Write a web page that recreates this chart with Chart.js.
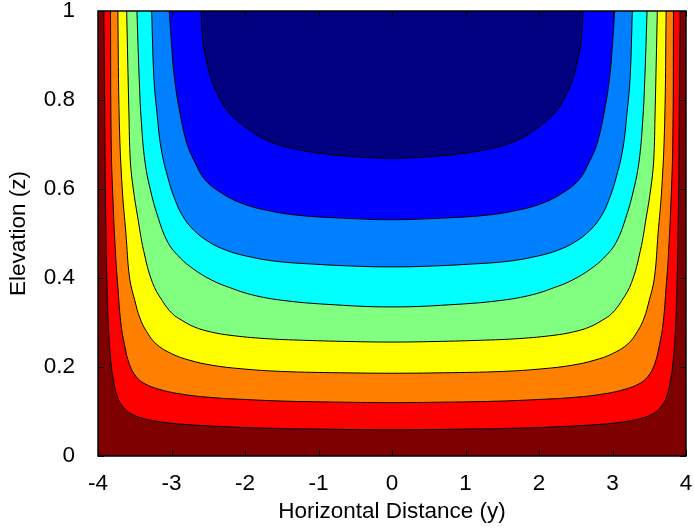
<!DOCTYPE html>
<html>
<head>
<meta charset="utf-8">
<script src="https://cdn.jsdelivr.net/npm/chart.js@4.4.0/dist/chart.umd.min.js"></script>
<style>
  html, body { margin: 0; padding: 0; background: #fff; }
  #wrap { position: relative; width: 694px; height: 529px; }
</style>
</head>
<body>
<div id="wrap"><canvas id="chart"></canvas></div>
<script>
// axis ticks
const xTicks = [-4, -3, -2, -1, 0, 1, 2, 3, 4];
const zTicks = [0, 0.2, 0.4, 0.6, 0.8, 1];

// band colours, lowest band first
const bandColors = ['#7f0000', '#ff0000', '#ff8000', '#ffff00', '#80ff80', '#00ffff', '#0080ff', '#0000ff', '#000080'];

// lowest band fills the whole box
const domain = [[-4, 0], [4, 0]];

// contour lines, [y, z], left top -> bottom -> right top
const contour1 = [[-3.92,1],[-3.91,0.8],[-3.90,0.6],[-3.88,0.4],[-3.86,0.3],[-3.83,0.22],[-3.79,0.17],[-3.74,0.135],[-3.68,0.115],[-3.58,0.098],[-3.42,0.086],[-3.2,0.078],[-2.9,0.072],[-2.4,0.067],[-1.8,0.063],[-1.0,0.0605],[0,0.059],
  [1.0,0.0605],[1.8,0.063],[2.4,0.067],[2.9,0.072],[3.2,0.078],[3.42,0.086],[3.58,0.098],[3.68,0.115],[3.74,0.135],[3.79,0.17],[3.83,0.22],[3.86,0.3],[3.88,0.4],[3.90,0.6],[3.91,0.8],[3.92,1]];
const contour2 = [[-3.83,1],[-3.82,0.7],[-3.79,0.55],[-3.76,0.45],[-3.73,0.38],[-3.69,0.3],[-3.64,0.25],[-3.57,0.205],[-3.48,0.178],[-3.36,0.162],[-3.17,0.150],[-2.9,0.140],[-2.5,0.132],[-2.0,0.127],[-1.4,0.123],[-0.7,0.121],[0,0.120],
  [0.7,0.121],[1.4,0.123],[2.0,0.127],[2.5,0.132],[2.9,0.140],[3.17,0.150],[3.36,0.162],[3.48,0.178],[3.57,0.205],[3.64,0.25],[3.69,0.3],[3.73,0.38],[3.76,0.45],[3.79,0.55],[3.82,0.7],[3.83,1]];
const contour3 = [[-3.73,1],[-3.71,0.75],[-3.67,0.6],[-3.62,0.5],[-3.57,0.4],[-3.50,0.35],[-3.43,0.31],[-3.34,0.28],[-3.21,0.252],[-3.0,0.23],[-2.75,0.215],[-2.45,0.204],[-2.05,0.196],[-1.5,0.19],[-0.7,0.187],[0,0.186],
  [0.7,0.187],[1.5,0.19],[2.05,0.196],[2.45,0.204],[2.75,0.215],[3.0,0.23],[3.21,0.252],[3.34,0.28],[3.43,0.31],[3.50,0.35],[3.57,0.4],[3.62,0.5],[3.67,0.6],[3.71,0.75],[3.73,1]];
const contour4 = [[-3.61,1],[-3.58,0.775],[-3.56,0.663],[-3.52,0.6],[-3.46,0.537],[-3.38,0.462],[-3.26,0.39],[-3.13,0.35],[-2.99,0.32],[-2.86,0.305],[-2.69,0.29],[-2.47,0.279],[-2.19,0.271],[-1.74,0.264],[-1.2,0.26],[-0.5,0.257],[0,0.256],
  [0.5,0.257],[1.2,0.26],[1.74,0.264],[2.19,0.271],[2.47,0.279],[2.69,0.29],[2.86,0.305],[2.99,0.32],[3.13,0.35],[3.26,0.39],[3.38,0.462],[3.46,0.537],[3.52,0.6],[3.56,0.663],[3.58,0.775],[3.61,1]];
const contour5 = [[-3.47,1],[-3.44,0.85],[-3.41,0.75],[-3.36,0.66],[-3.29,0.6],[-3.19,0.54],[-3.05,0.48],[-2.88,0.445],[-2.7,0.42],[-2.45,0.395],[-2.2,0.378],[-1.9,0.362],[-1.5,0.35],[-0.9,0.341],[0,0.335],
  [0.9,0.341],[1.5,0.35],[1.9,0.362],[2.2,0.378],[2.45,0.395],[2.7,0.42],[2.88,0.445],[3.05,0.48],[3.19,0.54],[3.29,0.6],[3.36,0.66],[3.41,0.75],[3.44,0.85],[3.47,1]];
const contour6 = [[-3.27,1],[-3.24,0.85],[-3.20,0.775],[-3.14,0.69],[-3.04,0.62],[-2.95,0.575],[-2.85,0.54],[-2.70,0.508],[-2.48,0.48],[-2.25,0.462],[-2.0,0.45],[-1.6,0.438],[-1.05,0.431],[-0.4,0.426],[0,0.425],
  [0.4,0.426],[1.05,0.431],[1.6,0.438],[2.0,0.45],[2.25,0.462],[2.48,0.48],[2.70,0.508],[2.85,0.54],[2.95,0.575],[3.04,0.62],[3.14,0.69],[3.20,0.775],[3.24,0.85],[3.27,1]];
const contour7 = [[-3.03,1],[-3.0,0.925],[-2.96,0.85],[-2.89,0.775],[-2.79,0.702],[-2.69,0.663],[-2.54,0.62],[-2.31,0.59],[-2.03,0.567],[-1.7,0.552],[-1.28,0.541],[-0.6,0.534],[0,0.531],
  [0.6,0.534],[1.28,0.541],[1.7,0.552],[2.03,0.567],[2.31,0.59],[2.54,0.62],[2.69,0.663],[2.79,0.702],[2.89,0.775],[2.96,0.85],[3.0,0.925],[3.03,1]];
const contour8 = [[-2.60,1],[-2.57,0.93],[-2.50,0.87],[-2.42,0.83],[-2.30,0.79],[-2.15,0.76],[-1.96,0.735],[-1.75,0.713],[-1.5,0.697],[-1.2,0.686],[-0.75,0.676],[0,0.669],
  [0.75,0.676],[1.2,0.686],[1.5,0.697],[1.75,0.713],[1.96,0.735],[2.15,0.76],[2.30,0.79],[2.42,0.83],[2.50,0.87],[2.57,0.93],[2.60,1]];

const contours = [contour1, contour2, contour3, contour4, contour5, contour6, contour7, contour8];

const FONT = { family: "'Liberation Sans', Arial, sans-serif", size: 22.5 };

const toPts = arr => arr.map(p => ({ x: p[0], y: p[1] }));

const datasets = [{
  data: toPts(domain),
  showLine: true,
  fill: 'end',
  backgroundColor: bandColors[0],
  borderWidth: 0,
  pointRadius: 0,
  order: 50
}];
contours.forEach((c, i) => {
  datasets.push({
    data: toPts(c),
    showLine: true,
    fill: 'end',
    backgroundColor: bandColors[i + 1],
    borderColor: '#000',
    borderWidth: 1,
    pointRadius: 0,
    tension: 0.4,
    order: 20 - i
  });
});

// box border + inward ticks on all four sides, gnuplot style
const frame = {
  id: 'frame',
  afterDatasetsDraw(chart) {
    const { ctx, chartArea: a, scales: { x, y } } = chart;
    const len = 6;
    ctx.save();
    ctx.strokeStyle = '#000';
    ctx.lineWidth = 1;
    ctx.beginPath();
    xTicks.forEach(v => {
      const px = Math.round(x.getPixelForValue(v)) + 0.5;
      ctx.moveTo(px, a.bottom); ctx.lineTo(px, a.bottom - len);
      ctx.moveTo(px, a.top); ctx.lineTo(px, a.top + len);
    });
    zTicks.forEach(v => {
      const py = Math.round(y.getPixelForValue(v)) + 0.5;
      ctx.moveTo(a.left, py); ctx.lineTo(a.left + len, py);
      ctx.moveTo(a.right, py); ctx.lineTo(a.right - len, py);
    });
    ctx.stroke();
    ctx.lineWidth = 1.5;
    ctx.strokeRect(a.left, a.top, a.right - a.left, a.bottom - a.top);
    ctx.restore();
  }
};

new Chart(document.getElementById('chart'), {
  type: 'scatter',
  data: { datasets },
  options: {
    responsive: true,
    maintainAspectRatio: false,
    animation: false,
    layout: { padding: { top: 11, right: 8, left: 0, bottom: 0 } },
    plugins: { legend: { display: false }, tooltip: { enabled: false } },
    scales: {
      x: {
        type: 'linear', min: -4, max: 4,
        grid: { display: false }, border: { display: false },
        afterBuildTicks: s => { s.ticks = xTicks.map(v => ({ value: v })); },
        afterFit: s => { s.height = 73; s.paddingLeft = 0; s.paddingRight = 0; },
        ticks: { font: FONT, color: '#000', padding: 6, maxRotation: 0, autoSkip: false, callback: v => String(v) },
        title: { display: true, text: 'Horizontal Distance (y)', font: FONT, color: '#000', padding: { top: 0, bottom: 4 } }
      },
      y: {
        type: 'linear', min: 0, max: 1,
        grid: { display: false }, border: { display: false },
        afterBuildTicks: s => { s.ticks = zTicks.map(v => ({ value: v })); },
        afterFit: s => { s.width = 98; s.paddingTop = 0; s.paddingBottom = 0; },
        ticks: { font: FONT, color: '#000', padding: 15, autoSkip: false, callback: v => String(v) },
        title: { display: true, text: 'Elevation (z)', font: FONT, color: '#000', padding: { top: 5, bottom: 0 } }
      }
    }
  },
  plugins: [frame]
});
</script>
</body>
</html>
